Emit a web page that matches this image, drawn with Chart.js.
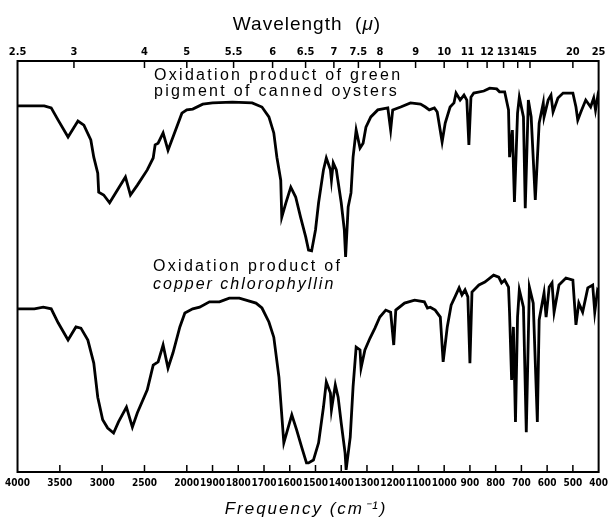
<!DOCTYPE html>
<html>
<head>
<meta charset="utf-8">
<script src="https://cdn.jsdelivr.net/npm/chart.js@4.4.1/dist/chart.umd.min.js"></script>
<style>
  html, body { margin: 0; padding: 0; background: #fff; }
  #wrap { width: 613px; height: 517px; }
</style>
</head>
<body>
<div id="wrap"><canvas id="ir"></canvas></div>
<script>
// upper trace: oxidation product of green pigment (canned oysters)
const freqUpper = [4000,3684,3602,3520,3403,3286,3216,3134,3099,3052,
  3041,2982,2912,2725,2666,2584,2467,2397,2374,2339,
  2280,2222,2163,2058,2000,1977,1938,1900,1823,1746,
  1708,1681,1662,1650,1635,1631,1615,1596,1577,1558,
  1538,1527,1515,1500,1488,1469,1458,1442,1438,1431,
  1419,1400,1388,1383,1373,1362,1354,1342,1327,1315,
  1304,1285,1258,1219,1208,1200,1169,1131,1092,1073,
  1058,1038,1027,1008,996,977,962,954,938,923,
  912,904,896,885,846,823,796,785,765,750,
  746,735,727,715,708,692,685,673,662,646,
  631,615,612,596,585,577,558,538,500,488,
  481,469,450,431,419,412,404,400];
const transUpper = [89.1,89.1,88.6,85.6,81.5,85.4,84.4,80.8,76.6,72.7,
  68.1,67.4,65.5,71.8,67.4,69.8,73.5,76.4,79.6,80.0,
  82.5,78.3,81.5,87.3,88.1,88.3,89.5,89.8,90.0,89.8,
  88.8,86.4,82.5,76.6,71.0,62.0,65.5,69.3,66.9,62.0,
  57.2,54.0,53.8,58.9,65.5,73.5,76.4,73.5,71.0,75.2,
  73.5,65.5,58.9,52.3,64.5,67.9,76.6,83.2,78.8,80.0,
  83.9,86.4,88.1,88.6,83.2,88.1,88.8,89.8,89.5,88.8,
  88.1,88.6,87.6,80.3,84.9,88.8,89.8,92.2,90.5,91.7,
  90.5,79.6,91.2,92.2,92.7,93.4,93.2,92.5,92.5,88.1,
  76.6,83.2,65.7,87.3,91.2,86.4,64.2,90.5,86.4,66.2,
  84.9,89.8,86.4,90.5,91.7,87.6,91.0,92.2,92.2,88.8,
  85.6,87.6,90.5,88.8,91.0,88.1,91.2,90.0];

// lower trace: oxidation product of copper chlorophyllin
const freqLower = [4000,3801,3696,3602,3520,3403,3310,3251,3169,3099,
  3052,2994,2935,2865,2807,2713,2643,2584,2467,2397,
  2339,2280,2222,2163,2082,2023,1977,1950,1912,1873,
  1835,1796,1731,1708,1681,1662,1642,1623,1612,1592,
  1573,1554,1535,1527,1508,1488,1469,1458,1442,1438,
  1423,1412,1400,1385,1381,1365,1354,1342,1327,1323,
  1308,1288,1269,1250,1227,1208,1196,1188,1154,1115,
  1077,1065,1054,1035,1015,1004,988,973,958,942,
  931,919,908,900,892,865,842,808,788,777,
  765,750,746,738,731,723,715,708,692,681,
  669,654,638,631,612,604,592,581,573,554,
  527,500,488,477,462,442,423,415,404,400];
const transLower = [39.7,39.7,40.1,39.7,36.3,32.1,35.3,35.0,32.1,26.5,
  18.2,12.7,10.7,9.5,12.2,15.8,10.9,14.4,20.0,26.0,
  26.8,30.9,25.3,29.0,35.3,38.7,39.7,40.1,41.4,41.4,
  42.3,42.3,41.1,39.9,36.5,32.8,23.1,7.1,9.5,13.9,
  10.2,6.1,2.2,2.2,2.9,7.1,15.8,21.9,19.2,15.1,
  21.2,18.2,11.9,4.6,0.5,8.5,20.7,30.4,29.7,25.3,
  29.7,32.6,35.0,37.7,39.4,38.9,30.9,39.4,41.1,41.8,
  41.4,39.9,40.1,39.4,37.7,26.8,35.3,40.6,42.6,44.8,
  43.1,44.3,42.6,26.5,43.8,45.5,46.2,47.9,47.4,46.0,
  46.7,45.0,38.7,22.4,35.3,12.2,37.7,44.3,40.1,9.7,
  45.0,41.1,12.2,37.0,43.6,37.7,45.0,46.0,38.9,45.5,
  47.2,46.7,35.8,41.1,38.9,44.8,45.5,38.9,44.3,44.0];

const freqTicks = [4000,3500,3000,2500,2000,1900,1800,1700,1600,1500,1400,1300,1200,1100,1000,900,800,700,600,500,400];
const waveTicks = [2.5,3,4,5,5.5,6,6.5,7,7.5,8,9,10,11,12,13,14,15,20,25];

// chart paper: 4000-2000 cm-1 is compressed relative to 2000-400 cm-1
function toAxis(f) {
    return f >= 2000 ? (4000 - f) * 171 / 2000 : 171 + (2000 - f) * 416 / 1600;
}

const tickFont = { family: "'Liberation Sans Narrow', 'DejaVu Sans Condensed', sans-serif", size: 11, weight: "bold" };
const textFont = "'Liberation Sans', Arial, sans-serif";

const paperPlugin = {
    id: "paper",
    afterDraw(chart) {
        const ctx = chart.ctx;
        const a = chart.chartArea;
        ctx.save();
        ctx.strokeStyle = "#000";
        ctx.lineWidth = 2;
        ctx.strokeRect(a.left, a.top, a.right - a.left, a.bottom - a.top);

        // tick marks point into the chart
        ctx.lineWidth = 1.5;
        chart.scales.x.ticks.forEach((t, i) => {
            if (i === 0 || i === freqTicks.length - 1) return;
            const px = chart.scales.x.getPixelForValue(t.value);
            ctx.beginPath();
            ctx.moveTo(px, a.bottom);
            ctx.lineTo(px, a.bottom - 7);
            ctx.stroke();
        });
        chart.scales.x2.ticks.forEach((t, i) => {
            if (i === 0 || i === waveTicks.length - 1) return;
            const px = chart.scales.x2.getPixelForValue(t.value);
            ctx.beginPath();
            ctx.moveTo(px, a.top);
            ctx.lineTo(px, a.top + 7);
            ctx.stroke();
        });

        ctx.fillStyle = "#000";
        ctx.textBaseline = "alphabetic";
        ctx.textAlign = "left";

        // top title, with an italic mu
        ctx.letterSpacing = "1px";
        ctx.font = "19px " + textFont;
        const head = "Wavelength  (";
        const w1 = ctx.measureText(head).width;
        const w3 = ctx.measureText(")").width;
        ctx.font = "italic 19px " + textFont;
        const w2 = ctx.measureText("μ").width;
        let x = 307 - (w1 + w2 + w3) / 2;
        ctx.font = "19px " + textFont;
        ctx.fillText(head, x, 30);
        ctx.font = "italic 19px " + textFont;
        ctx.fillText("μ", x + w1, 30);
        ctx.font = "19px " + textFont;
        ctx.fillText(")", x + w1 + w2, 30);

        // bottom title
        ctx.textAlign = "center";
        ctx.font = "italic 17px " + textFont;
        ctx.letterSpacing = "2px";
        ctx.fillText("Frequency (cm⁻¹)", 306, 514);

        // trace captions
        ctx.textAlign = "left";
        ctx.letterSpacing = "2.3px";
        ctx.font = "16px " + textFont;
        ctx.fillText("Oxidation product of green", 154, 80);
        ctx.fillText("pigment of canned oysters", 154, 96);
        ctx.fillText("Oxidation product of", 153, 271);
        ctx.font = "italic 16px " + textFont;
        ctx.letterSpacing = "2px";
        ctx.fillText("copper chlorophyllin", 153, 289);
        ctx.restore();
    }
};

new Chart(document.getElementById("ir"), {
    type: "scatter",
    data: {
        datasets: [
            {
                label: "Oxidation product of green pigment of canned oysters",
                data: freqUpper.map((f, i) => ({ x: toAxis(f), y: transUpper[i] })),
                showLine: true,
                borderColor: "#000",
                borderWidth: 2.8,
                pointRadius: 0,
                tension: 0
            },
            {
                label: "Oxidation product of copper chlorophyllin",
                data: freqLower.map((f, i) => ({ x: toAxis(f), y: transLower[i] })),
                showLine: true,
                borderColor: "#000",
                borderWidth: 2.8,
                pointRadius: 0,
                tension: 0
            }
        ]
    },
    options: {
        responsive: true,
        maintainAspectRatio: false,
        animation: false,
        devicePixelRatio: 1,
        layout: { padding: { left: 16, right: 10, top: 0, bottom: 0 } },
        plugins: {
            legend: { display: false },
            tooltip: { enabled: false }
        },
        scales: {
            x: {
                type: "linear",
                position: "bottom",
                min: 0,
                max: 587,
                afterBuildTicks: (s) => { s.ticks = freqTicks.map(f => ({ value: toAxis(f) })); },
                afterFit: (s) => { s.height = 45; },
                ticks: {
                    autoSkip: false,
                    maxRotation: 0,
                    padding: 5,
                    color: "#000",
                    font: { ...tickFont, size: 10 },
                    callback: (v, i) => String(freqTicks[i])
                },
                grid: { display: false, drawTicks: false },
                border: { display: false }
            },
            x2: {
                type: "linear",
                position: "top",
                min: 0,
                max: 587,
                afterBuildTicks: (s) => { s.ticks = waveTicks.map(w => ({ value: toAxis(10000 / w) })); },
                afterFit: (s) => { s.height = 61; },
                ticks: {
                    autoSkip: false,
                    maxRotation: 0,
                    padding: 2,
                    color: "#000",
                    font: tickFont,
                    callback: (v, i) => String(waveTicks[i])
                },
                grid: { display: false, drawTicks: false },
                border: { display: false }
            },
            y: {
                display: false,
                min: 0,
                max: 100
            }
        }
    },
    plugins: [paperPlugin]
});
</script>
</body>
</html>
